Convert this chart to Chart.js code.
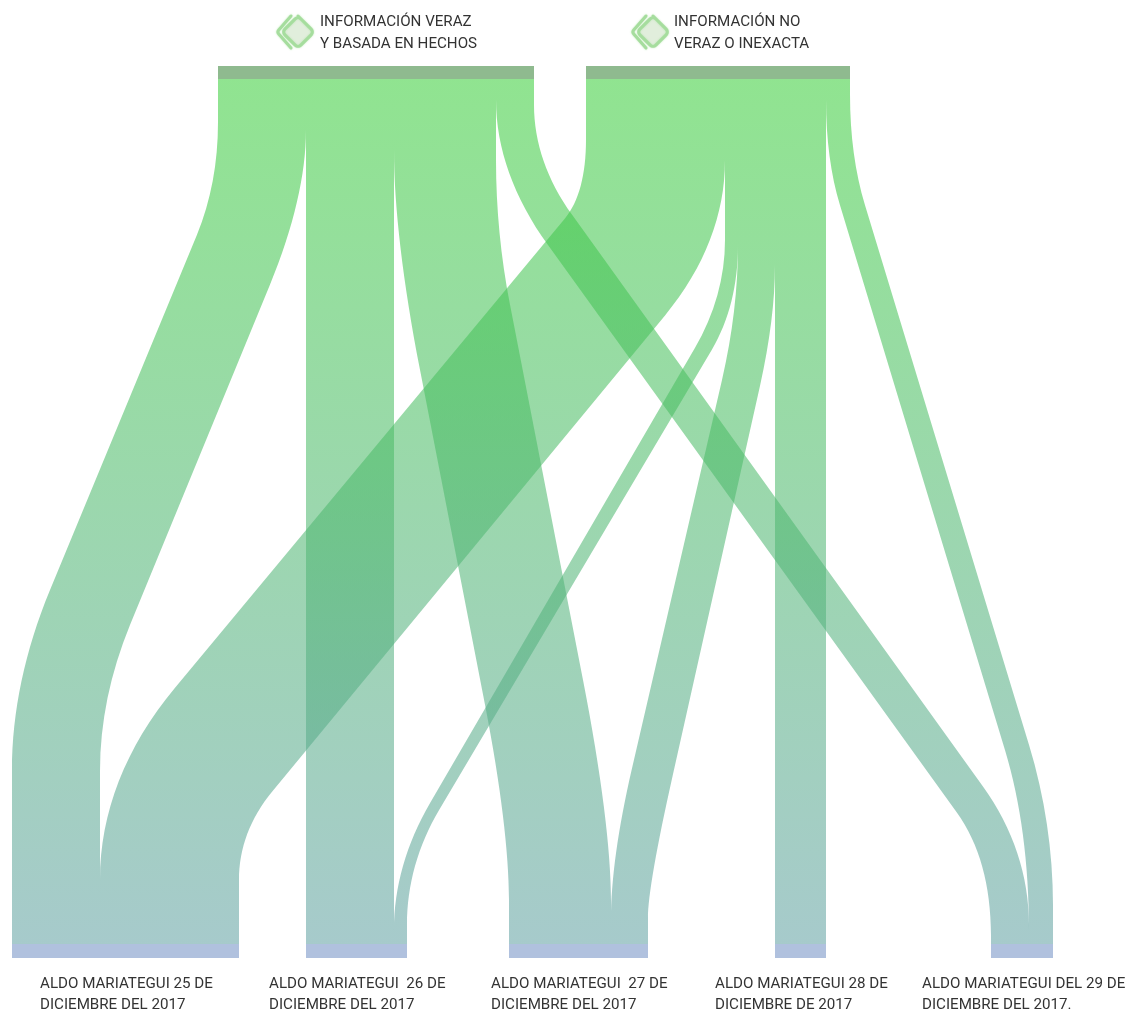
<!DOCTYPE html>
<html><head><meta charset="utf-8">
<script src="https://cdn.jsdelivr.net/npm/chart.js@4"></script>
<style>html,body{margin:0;padding:0;background:#fff}canvas{display:block}</style>
</head><body><canvas id="c" width="1132" height="1012"></canvas>
<script>
// ---- data ----
const sourceLabels = [["INFORMACIÓN VERAZ","Y BASADA EN HECHOS"],["INFORMACIÓN NO","VERAZ O INEXACTA"]];
const targetLabels = [
  ["ALDO MARIATEGUI 25 DE","DICIEMBRE DEL 2017"],
  ["ALDO MARIATEGUI  26 DE","DICIEMBRE DEL 2017"],
  ["ALDO MARIATEGUI  27 DE","DICIEMBRE DEL 2017"],
  ["ALDO MARIATEGUI 28 DE","DICIEMBRE DE 2017"],
  ["ALDO MARIATEGUI DEL 29 DE","DICIEMBRE DEL 2017."]
];
const flowSource = [0,0,0,0,1,1,1,1,1];
const flowTarget = [0,1,2,4,0,1,2,3,4];
const flowValue  = [88,88,102,38,139,13,37,51,24];

// ---- layout (axis units) ----
const sourceStart = [218,586];
const targetStart = [12,306,509,775,991];
const levels = {srcTop:66, srcBottom:79, tgtTop:944, tgtBottom:958};
const sourceTextX = [320,674], targetTextX = [40,269,491,715,922];
const iconX = [298,653];
// ribbon edge shape: [bendStart, bendEnd, bendEndFrac, bendIn, bendInFrac, bendOut]; null = straight
const edgeShapes = [
 [[.050,.180,.102,.591,.816,.799],[.059,.238,.175,.631,.854,.800]],
 null,
 [[.082,.336,.226,.723,.791,.949],[.094,.261,.122,.695,.757,.950]],
 [[.024,.192,.105,.848,.931,.990],[.030,.157,.077,.818,.907,.978]],
 [[.070,.161,.043,.704,.846,.926],[.094,.273,.123,.824,.932,.926]],
 [[.186,.311,.091,.837,.891,.984],[.192,.313,.079,.845,.903,.978]],
 [[.192,.348,.126,.797,.835,.972],[.215,.354,.117,.805,.805,.970]],
 null,
 [[.024,.146,.069,.776,.882,.984],[.018,.146,.074,.770,.882,.955]]
];

// ---- derive anchors from the values ----
const srcUsed = sourceStart.map(()=>0), tgtUsed = targetStart.map(()=>0);
const flows = flowValue.map((v,i)=>{
  const s = sourceStart[flowSource[i]] + srcUsed[flowSource[i]];
  const t = targetStart[flowTarget[i]] + tgtUsed[flowTarget[i]];
  srcUsed[flowSource[i]] += v; tgtUsed[flowTarget[i]] += v;
  return {s,t,v,shape:edgeShapes[i]};
});
const sourceValue = srcUsed, targetValue = tgtUsed;

function edgePath(ctx, X, Y, sx, tx, sh, reverse){
  const y=t=>Y(levels.srcBottom+(levels.tgtTop-levels.srcBottom)*t);
  const x=f=>X(sx+(tx-sx)*f);
  if(!sh){ if(reverse){ctx.lineTo(x(1),y(1));ctx.lineTo(x(0),y(0));} else {ctx.lineTo(x(0),y(0));ctx.lineTo(x(1),y(1));} return; }
  const [t0,t1,f1,t2,f2,t3]=sh;
  const P=[[x(0),y(0)],[x(0),y(t0)],[x(f1),y(t1)],[x(f2),y(t2)],[x(1),y(t3)],[x(1),y(1)]];
  const slope=(P[3][1]-P[2][1])/(P[3][0]-P[2][0]);
  const clamp=(v,a,b)=>Math.min(Math.max(v,Math.min(a,b)),Math.max(a,b));
  const q1=[P[1][0],clamp(P[2][1]+(P[1][0]-P[2][0])*slope,P[1][1],P[2][1])];
  const q2=[P[4][0],clamp(P[3][1]+(P[4][0]-P[3][0])*slope,P[3][1],P[4][1])];
  const k=.66, mix=(A,B)=>[A[0]+(B[0]-A[0])*k,A[1]+(B[1]-A[1])*k];
  const a=mix(P[1],q1), b=mix(P[2],q1), c=mix(P[3],q2), d=mix(P[4],q2);
  if(!reverse){
    ctx.lineTo(...P[0]);ctx.lineTo(...P[1]);
    ctx.bezierCurveTo(...a,...b,...P[2]);
    ctx.lineTo(...P[3]);
    ctx.bezierCurveTo(...c,...d,...P[4]);
    ctx.lineTo(...P[5]);
  } else {
    ctx.lineTo(...P[5]);ctx.lineTo(...P[4]);
    ctx.bezierCurveTo(...d,...c,...P[3]);
    ctx.lineTo(...P[2]);
    ctx.bezierCurveTo(...b,...a,...P[1]);
    ctx.lineTo(...P[0]);
  }
}
function icon(ctx,cx,cy){
  const r=16, rr=4;
  ctx.save();
  ctx.lineJoin='round';ctx.lineCap='round';
  ctx.shadowColor='rgba(150,220,140,.6)';ctx.shadowBlur=2;
  ctx.strokeStyle='#a6dd9e';ctx.lineWidth=3;
  ctx.beginPath();ctx.moveTo(cx-7,cy-16);ctx.arcTo(cx-21,cy,cx-7,cy+16,3);ctx.lineTo(cx-7,cy+16);ctx.stroke();
  ctx.beginPath();ctx.moveTo(cx,cy-r);ctx.arcTo(cx+r,cy,cx,cy+r,rr);ctx.arcTo(cx,cy+r,cx-r,cy,rr);ctx.arcTo(cx-r,cy,cx,cy-r,rr);ctx.arcTo(cx,cy-r,cx+r,cy,rr);ctx.closePath();
  ctx.fillStyle='#e1eedc';ctx.fill();ctx.stroke();
  ctx.restore();
}
const sankey={id:'sankey',
  afterDatasetsDraw(chart){
    const {ctx,scales:{x,y}}=chart;
    const X=v=>x.getPixelForValue(v),Y=v=>y.getPixelForValue(v);
    const g=ctx.createLinearGradient(0,Y(levels.srcBottom),0,Y(levels.tgtTop));
    g.addColorStop(0,'rgba(60,207,60,.57)');
    g.addColorStop(1,'rgba(99,162,164,.57)');
    flows.forEach(f=>{
      ctx.beginPath();
      const sh=f.shape||[null,null];
      edgePath(ctx,X,Y,f.s,f.t,sh[0],false);
      edgePath(ctx,X,Y,f.s+f.v,f.t+f.v,sh[1],true);
      ctx.closePath();ctx.fillStyle=g;ctx.fill();
    });
    ctx.fillStyle='#8fba8f';
    sourceStart.forEach((s,i)=>ctx.fillRect(X(s),Y(levels.srcTop),X(s+sourceValue[i])-X(s),Y(levels.srcBottom)-Y(levels.srcTop)));
    ctx.fillStyle='#b0c1de';
    targetStart.forEach((s,i)=>ctx.fillRect(X(s),Y(levels.tgtTop),X(s+targetValue[i])-X(s),Y(levels.tgtBottom)-Y(levels.tgtTop)));
    sourceLabels.forEach((l,i)=>icon(ctx,X(iconX[i]),Y(32)));
    ctx.fillStyle='#333';ctx.textBaseline='middle';ctx.textAlign='left';
    ctx.font='15.15px Roboto';
    sourceLabels.forEach((l,i)=>{ctx.fillText(l[0],X(sourceTextX[i]),Y(22));ctx.fillText(l[1],X(sourceTextX[i]),Y(44));});
    targetLabels.forEach((l,i)=>{ctx.fillText(l[0],X(targetTextX[i]),Y(984));ctx.fillText(l[1],X(targetTextX[i]),Y(1005));});
  }
};
new Chart(document.getElementById('c'),{
  type:'scatter',
  data:{datasets:flows.map((f,i)=>({label:sourceLabels[flowSource[i]].join(' ')+' → '+targetLabels[flowTarget[i]].join(' '),
    data:[{x:f.s,y:levels.srcBottom},{x:f.t,y:levels.tgtTop}],pointRadius:0,showLine:false}))},
  options:{responsive:false,animation:false,events:[],layout:{padding:0},
    plugins:{legend:{display:false},tooltip:{enabled:false}},
    scales:{x:{type:'linear',display:false,min:0,max:1132},y:{type:'linear',display:false,reverse:true,min:0,max:1012}}},
  plugins:[sankey]
});
</script></body></html>
